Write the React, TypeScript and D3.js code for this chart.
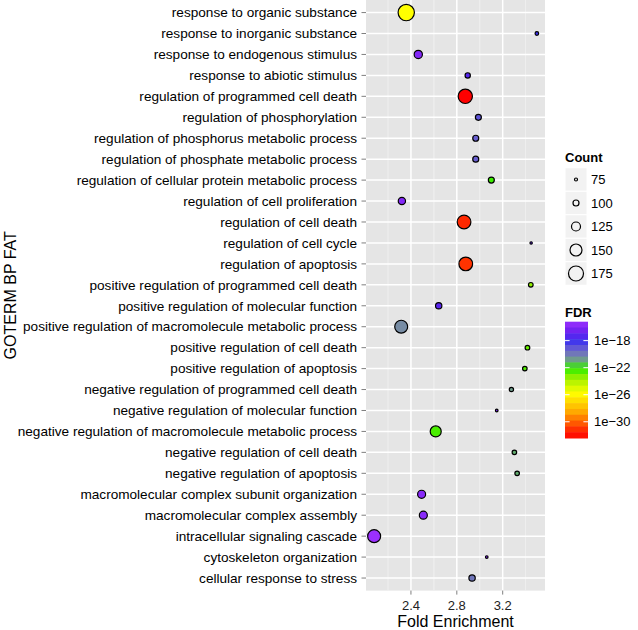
import React from "react";
import * as d3 from "d3";

const categories = [
  "response to organic substance",
  "response to inorganic substance",
  "response to endogenous stimulus",
  "response to abiotic stimulus",
  "regulation of programmed cell death",
  "regulation of phosphorylation",
  "regulation of phosphorus metabolic process",
  "regulation of phosphate metabolic process",
  "regulation of cellular protein metabolic process",
  "regulation of cell proliferation",
  "regulation of cell death",
  "regulation of cell cycle",
  "regulation of apoptosis",
  "positive regulation of programmed cell death",
  "positive regulation of molecular function",
  "positive regulation of macromolecule metabolic process",
  "positive regulation of cell death",
  "positive regulation of apoptosis",
  "negative regulation of programmed cell death",
  "negative regulation of molecular function",
  "negative regulation of macromolecule metabolic process",
  "negative regulation of cell death",
  "negative regulation of apoptosis",
  "macromolecular complex subunit organization",
  "macromolecular complex assembly",
  "intracellular signaling cascade",
  "cytoskeleton organization",
  "cellular response to stress",
];

const foldEnrichment = [
  2.359, 3.498, 2.464, 2.895, 2.874, 2.988, 2.965, 2.965, 3.101, 2.321,
  2.863, 3.448, 2.878, 3.445, 2.642, 2.315, 3.416, 3.393, 3.276, 3.148,
  2.616, 3.302, 3.326, 2.493, 2.508, 2.079, 3.061, 2.933,
];

const counts = [
  186, 80, 119, 94, 169, 100, 100, 100, 100, 111, 164, 70, 164, 89, 103, 158,
  89, 88, 86, 72, 142, 88, 88, 117, 117, 158, 72, 103,
];

const log10FDR = [
  -25.8, -18.0, -16.0, -17.3, -32.4, -19.0, -19.3, -19.3, -22.3, -16.0,
  -31.3, -17.0, -31.0, -23.4, -17.2, -20.5, -22.9, -22.6, -20.8, -16.2,
  -22.5, -21.1, -21.1, -15.8, -15.8, -15.2, -16.0, -19.9,
];

const xTicks = [2.4, 2.8, 3.2];
const xMinor = [2.2, 2.6, 3.0, 3.4];
const countBreaks = [75, 100, 125, 150, 175];
const fdrBreaks = [-18, -22, -26, -30];
const fdrBreakLabels = ["1e\u221218", "1e\u221222", "1e\u221226", "1e\u221230"];

const fdrStops = [-32.4, -31, -28.5, -25.8, -23.6, -22.2, -20.6, -19.3, -18.0, -16.8, -15.2];
const fdrColors = ["#ff0000", "#ff3300", "#ffaa00", "#ffff00", "#a0f000", "#33ee00", "#7890a0", "#6a60d0", "#3a30f0", "#6a20ee", "#9b30ff"];

const FONT = "'Liberation Sans', Arial, Helvetica, sans-serif";

export default function App() {
  const W = 638;
  const H = 630;
  const panel = { left: 366, right: 545, top: 0, bottom: 590.6 };

  const [xmin, xmax] = d3.extent(foldEnrichment) as [number, number];
  const pad = (xmax - xmin) * 0.05;
  const x = d3.scaleLinear().domain([xmin - pad, xmax + pad]).range([panel.left, panel.right]);
  const y = d3.scalePoint<string>().domain(categories).range([panel.top, panel.bottom]).padding(0.6);
  const r = d3.scaleLinear().domain([75, 175]).range([1.5, 7.5]);
  const color = d3.scaleLinear<string>().domain(fdrStops).range(fdrColors).interpolate(d3.interpolateRgb).clamp(true);

  const [fmin, fmax] = d3.extent(log10FDR) as [number, number];
  const bar = { x: 565, w: 23, top: 321.7, bottom: 438 };
  const fy = d3.scaleLinear().domain([fmax, fmin]).range([bar.top, bar.bottom]);
  const nbin = 20;
  const binH = (bar.bottom - bar.top) / nbin;
  const bins = d3.range(nbin).map((i) => {
    const v = fmax + ((fmin - fmax) * (i + 0.5)) / nbin;
    return { i, c: color(v) };
  });

  const order = d3.range(categories.length).sort((a, b) => counts[b] - counts[a]);

  const keyY0 = 179.5;
  const keyStep = 23.5;

  return (
    <svg width={W} height={H} style={{ position: "absolute", left: 0, top: 0, background: "#fff" }} fontFamily={FONT}>
      <rect x={0} y={0} width={W} height={H} fill="#fff" />
      <rect x={panel.left} y={panel.top} width={panel.right - panel.left} height={panel.bottom - panel.top} fill="#e5e5e5" />
      {xMinor.map((v) => (
        <line key={"mn" + v} x1={x(v)} x2={x(v)} y1={panel.top} y2={panel.bottom} stroke="#f2f2f2" strokeWidth={0.8} />
      ))}
      {xTicks.map((v) => (
        <line key={"mj" + v} x1={x(v)} x2={x(v)} y1={panel.top} y2={panel.bottom} stroke="#fff" strokeWidth={1.5} />
      ))}
      {categories.map((c) => (
        <line key={"h" + c} x1={panel.left} x2={panel.right} y1={y(c)} y2={y(c)} stroke="#fff" strokeWidth={1.5} />
      ))}
      {order.map((i) => (
        <circle
          key={"p" + i}
          cx={x(foldEnrichment[i])}
          cy={y(categories[i])}
          r={r(counts[i])}
          fill={color(log10FDR[i])}
          stroke="#000"
          strokeWidth={1.2}
        />
      ))}
      {categories.map((c) => (
        <g key={"yl" + c}>
          <line x1={panel.left - 4.5} x2={panel.left} y1={y(c)} y2={y(c)} stroke="#7f7f7f" strokeWidth={1} />
          <text x={panel.left - 9} y={y(c)} dy="0.35em" textAnchor="end" fontSize={13.6} fill="#000">
            {c}
          </text>
        </g>
      ))}
      {xTicks.map((v) => (
        <g key={"xl" + v}>
          <line x1={x(v)} x2={x(v)} y1={panel.bottom} y2={panel.bottom + 4} stroke="#7f7f7f" strokeWidth={1} />
          <text x={x(v)} y={610} textAnchor="middle" fontSize={13} fill="#222">
            {v.toFixed(1)}
          </text>
        </g>
      ))}
      <text x={(panel.left + panel.right) / 2} y={627} textAnchor="middle" fontSize={16} fill="#000">
        Fold Enrichment
      </text>
      <text transform={`translate(16,${(panel.top + panel.bottom) / 2}) rotate(-90)`} textAnchor="middle" fontSize={16} fill="#000">
        GOTERM BP FAT
      </text>
      <text x={565} y={161.7} fontSize={13} fontWeight="bold" fill="#000">
        Count
      </text>
      {countBreaks.map((b, k) => {
        const cy = keyY0 + k * keyStep;
        return (
          <g key={"cb" + b}>
            <rect x={565} y={cy - keyStep / 2} width={22} height={keyStep} fill="#f2f2f2" stroke="#fff" strokeWidth={1} />
            <circle cx={576} cy={cy} r={r(b)} fill="none" stroke="#000" strokeWidth={1.2} />
            <text x={591} y={cy} dy="0.35em" fontSize={13} fill="#000">
              {b}
            </text>
          </g>
        );
      })}
      <text x={565} y={316.7} fontSize={13} fontWeight="bold" fill="#000">
        FDR
      </text>
      {bins.map((b) => (
        <rect key={"bin" + b.i} x={bar.x} y={bar.top + b.i * binH} width={bar.w} height={binH + 0.5} fill={b.c} />
      ))}
      {fdrBreaks.map((v, k) => (
        <g key={"fb" + v}>
          <line x1={bar.x} x2={bar.x + 4.6} y1={fy(v)} y2={fy(v)} stroke="#fff" strokeWidth={1} />
          <line x1={bar.x + bar.w - 4.6} x2={bar.x + bar.w} y1={fy(v)} y2={fy(v)} stroke="#fff" strokeWidth={1} />
          <text x={594} y={fy(v)} dy="0.35em" fontSize={13} fill="#000">
            {fdrBreakLabels[k]}
          </text>
        </g>
      ))}
    </svg>
  );
}
